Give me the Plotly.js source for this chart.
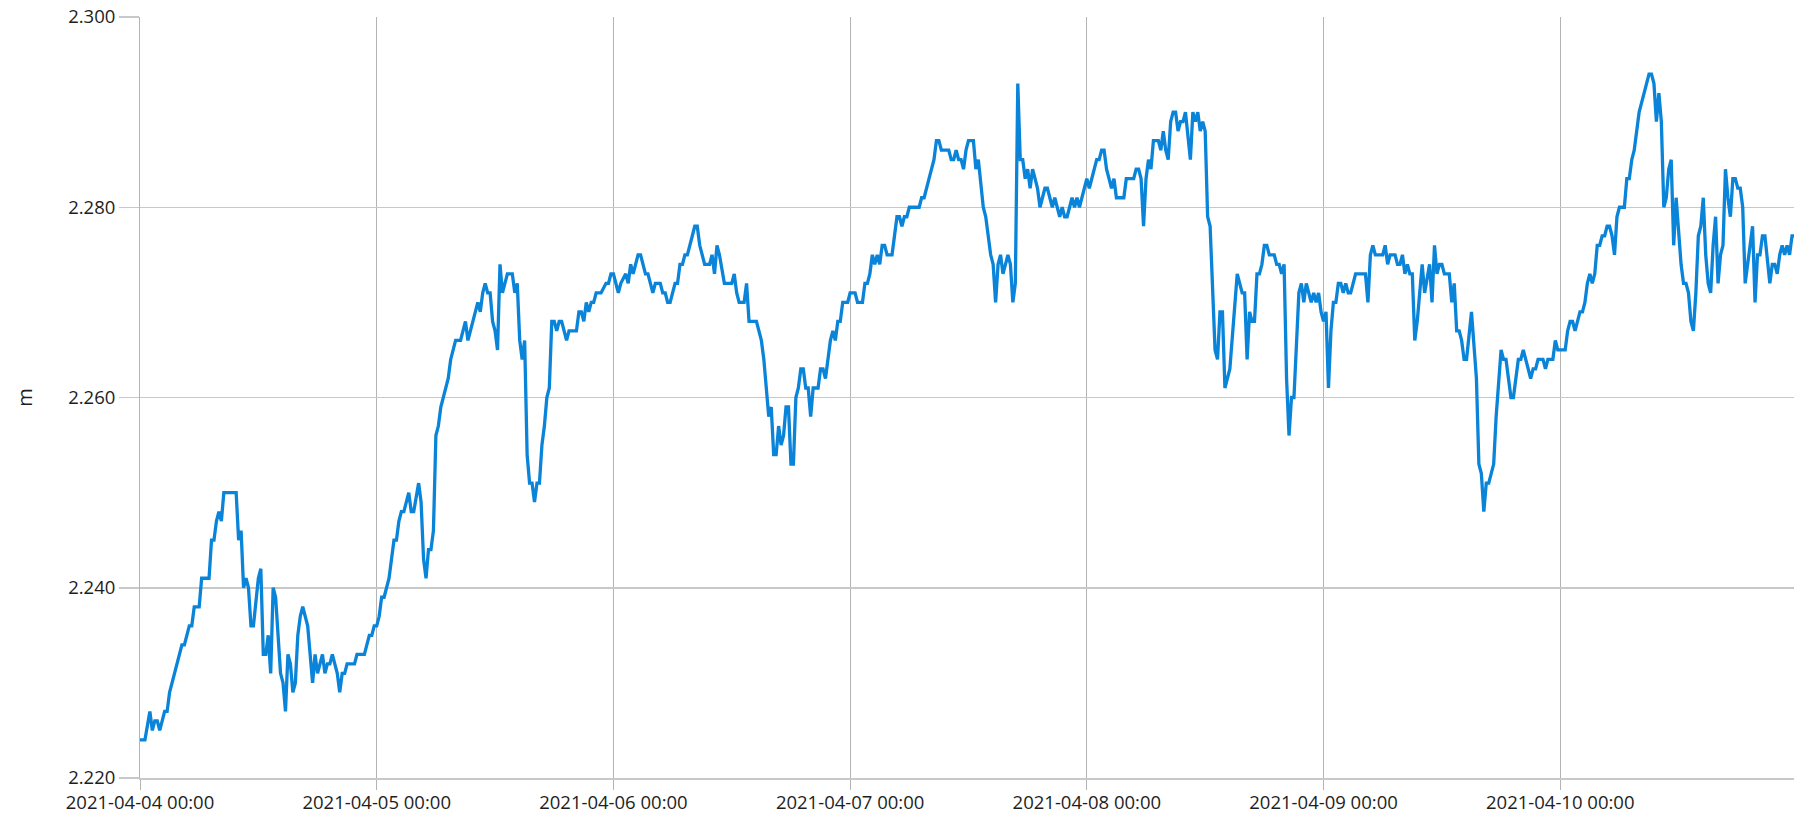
<!DOCTYPE html>
<html>
<head>
<meta charset="utf-8">
<script src="https://cdn.plot.ly/plotly-3.0.1.min.js"></script>
<style>html,body{margin:0;padding:0;background:#fff;}#chart{width:1794px;height:815px;}</style>
</head>
<body>
<div id="chart"></div>
<script>
// Start of the series and axis range
const startDate = [2021, 3, 4]; // 2021-04-04 00:00 (month is 0-based)
const rangeEndHours = 167.7;

// Hours since 2021-04-04 00:00 for each vertex of the line
const hoursDay1 = [0,0.5,1,1.25,1.5,1.75,2,2.5,2.75,3,3.25,4.25,4.5,5,5.25,5.5,6,6.25,7,7.25,7.5,7.75,8,8.25,8.5,9.75,10,10.25,10.5,10.75,11,11.25,11.5,12,12.25,12.5,12.75,13,13.25,13.5,13.75,14.25,14.5,14.75,15,15.25,15.5,15.75,16,16.25,16.5,16.75,17,17.5,17.75,18,18.5,18.75,19,19.25,19.5,19.75,20,20.25,20.5,20.75,21,21.75,22,22.75,23.25,23.5,23.75,24];
const levelDay1 = [2.224,2.224,2.227,2.225,2.226,2.226,2.225,2.227,2.227,2.229,2.230,2.234,2.234,2.236,2.236,2.238,2.238,2.241,2.241,2.245,2.245,2.247,2.248,2.247,2.250,2.250,2.245,2.246,2.240,2.241,2.240,2.236,2.236,2.241,2.242,2.233,2.233,2.235,2.231,2.240,2.239,2.231,2.230,2.227,2.233,2.232,2.229,2.230,2.235,2.237,2.238,2.237,2.236,2.230,2.233,2.231,2.233,2.231,2.232,2.232,2.233,2.232,2.231,2.229,2.231,2.231,2.232,2.232,2.233,2.233,2.235,2.235,2.236,2.236];

const hoursDay2 = [24.25,24.5,24.75,25.25,25.75,26,26.25,26.5,26.75,27.25,27.5,27.75,28.25,28.5,28.75,29,29.25,29.5,29.75,30,30.25,30.5,30.75,31.25,31.5,32,32.5,33,33.25,34.25,34.5,34.75,35,35.25,35.5,35.75,36,36.25,36.5,36.75,37.25,37.75,38,38.25,38.5,38.75,39,39.25,39.5,39.75,40,40.25,40.5,40.75,41,41.25,41.5,41.75,42,42.25,42.5,42.75,43.25,43.5,44.25,44.5,44.75,45,45.25,45.5,45.75,46,46.25,46.75,47.25,47.5,47.75,48];
const levelDay2 = [2.237,2.239,2.239,2.241,2.245,2.245,2.247,2.248,2.248,2.250,2.248,2.248,2.251,2.249,2.243,2.241,2.244,2.244,2.246,2.256,2.257,2.259,2.260,2.262,2.264,2.266,2.266,2.268,2.266,2.270,2.269,2.271,2.272,2.271,2.271,2.268,2.267,2.265,2.274,2.271,2.273,2.273,2.271,2.272,2.266,2.264,2.266,2.254,2.251,2.251,2.249,2.251,2.251,2.255,2.257,2.260,2.261,2.268,2.268,2.267,2.268,2.268,2.266,2.267,2.267,2.269,2.269,2.268,2.270,2.269,2.270,2.270,2.271,2.271,2.272,2.272,2.273,2.273];

const hoursDay3 = [48.5,48.75,49.25,49.5,49.75,50,50.5,50.75,51.25,51.5,52,52.25,52.75,53,53.25,53.5,53.75,54.25,54.5,54.75,55,55.25,55.5,56.25,56.5,56.75,57.25,57.75,58,58.25,58.5,58.75,59.25,60,60.25,60.5,60.75,61.25,61.5,61.75,62.5,62.75,63,63.25,63.75,64,64.25,64.5,64.75,65,65.25,65.5,65.75,66,66.25,66.5,66.75,67,67.25,67.5,67.75,68,68.25,68.75,69,69.25,69.5,69.75,70,70.25,70.5,70.75,71,71.25,71.75,72];
const levelDay3 = [2.271,2.272,2.273,2.272,2.274,2.273,2.275,2.275,2.273,2.273,2.271,2.272,2.272,2.271,2.271,2.270,2.270,2.272,2.272,2.274,2.274,2.275,2.275,2.278,2.278,2.276,2.274,2.274,2.275,2.273,2.276,2.275,2.272,2.272,2.273,2.271,2.270,2.270,2.272,2.268,2.268,2.267,2.266,2.264,2.258,2.259,2.254,2.254,2.257,2.255,2.256,2.259,2.259,2.253,2.253,2.260,2.261,2.263,2.263,2.261,2.261,2.258,2.261,2.261,2.263,2.263,2.262,2.264,2.266,2.267,2.266,2.268,2.268,2.270,2.270,2.271];

const hoursDay4 = [72.5,72.75,73.25,73.5,73.75,74,74.25,74.5,74.75,75,75.25,75.5,75.75,76.25,76.75,77,77.25,77.5,77.75,78,79,79.25,79.5,80,80.5,80.75,81,81.25,82,82.25,82.5,82.75,83,83.25,83.5,83.75,84,84.5,84.75,85,85.25,85.5,85.75,86.25,86.5,86.75,87,87.25,87.5,87.75,88,88.25,88.5,88.75,89,89.25,89.5,89.75,90,90.25,90.5,90.75,91,91.25,91.75,92,92.25,92.5,92.75,93,93.25,93.5,93.75,94,94.25,94.5,94.75,95,95.25,95.5,95.75,96];
const levelDay4 = [2.271,2.270,2.270,2.272,2.272,2.273,2.275,2.274,2.275,2.274,2.276,2.276,2.275,2.275,2.279,2.279,2.278,2.279,2.279,2.280,2.280,2.281,2.281,2.283,2.285,2.287,2.287,2.286,2.286,2.285,2.285,2.286,2.285,2.285,2.284,2.286,2.287,2.287,2.284,2.285,2.282,2.280,2.279,2.275,2.274,2.270,2.274,2.275,2.273,2.274,2.275,2.274,2.270,2.272,2.293,2.285,2.285,2.283,2.284,2.282,2.284,2.283,2.282,2.280,2.282,2.282,2.281,2.280,2.281,2.280,2.279,2.280,2.279,2.279,2.280,2.281,2.280,2.281,2.280,2.281,2.282,2.283];

const hoursDay5 = [96.25,96.5,97,97.25,97.5,97.75,98,98.25,98.5,98.75,99,99.75,100,100.75,101,101.25,101.5,101.75,102,102.25,102.5,102.75,103.25,103.5,103.75,104,104.25,104.5,104.75,105,105.25,105.5,105.75,106,106.25,106.5,106.75,107,107.25,107.5,107.75,108,108.25,108.5,109,109.25,109.5,109.75,110,110.5,111.25,111.5,111.75,112,112.25,112.5,112.75,113,113.25,113.5,113.75,114,114.25,114.5,115,115.25,115.5,115.75,116,116.25,116.5,116.75,117,117.5,117.75,118,118.25,118.5,118.75,119,119.25,119.5,119.75,120];
const levelDay5 = [2.282,2.283,2.285,2.285,2.286,2.286,2.284,2.283,2.282,2.283,2.281,2.281,2.283,2.283,2.284,2.284,2.283,2.278,2.283,2.285,2.284,2.287,2.287,2.286,2.288,2.286,2.285,2.289,2.290,2.290,2.288,2.289,2.289,2.290,2.287,2.285,2.290,2.289,2.290,2.288,2.289,2.288,2.279,2.278,2.265,2.264,2.269,2.269,2.261,2.263,2.273,2.272,2.271,2.271,2.264,2.269,2.268,2.268,2.273,2.273,2.274,2.276,2.276,2.275,2.275,2.274,2.274,2.273,2.274,2.262,2.256,2.260,2.260,2.271,2.272,2.270,2.272,2.271,2.270,2.271,2.270,2.271,2.269,2.268];

const hoursDay6 = [120.25,120.5,120.75,121,121.25,121.5,121.75,122,122.25,122.5,122.75,123.25,124.25,124.5,124.75,125,125.25,126,126.25,126.5,126.75,127.25,127.5,127.75,128,128.25,128.5,128.75,129,129.25,129.5,130,130.25,130.75,131,131.25,131.5,131.75,132,132.25,132.75,133,133.25,133.5,133.75,134,134.25,134.5,135,135.5,135.75,136,136.25,136.5,136.75,137,137.25,137.5,137.75,138,138.25,138.5,139,139.25,139.75,140,140.25,140.5,141,141.25,141.5,141.75,142.25,142.5,142.75,143.25,143.5,143.75,144];
const levelDay6 = [2.269,2.261,2.267,2.270,2.270,2.272,2.272,2.271,2.272,2.271,2.271,2.273,2.273,2.270,2.275,2.276,2.275,2.275,2.276,2.274,2.275,2.275,2.274,2.274,2.275,2.273,2.274,2.273,2.273,2.266,2.268,2.274,2.271,2.274,2.270,2.276,2.273,2.274,2.274,2.273,2.273,2.270,2.272,2.267,2.267,2.266,2.264,2.264,2.269,2.262,2.253,2.252,2.248,2.251,2.251,2.252,2.253,2.258,2.262,2.265,2.264,2.264,2.260,2.260,2.264,2.264,2.265,2.264,2.262,2.263,2.263,2.264,2.264,2.263,2.264,2.264,2.266,2.265,2.265];

const hoursDay7 = [144.5,144.75,145,145.25,145.5,145.75,146,146.25,146.5,146.75,147,147.25,147.5,147.75,148,148.25,148.5,148.75,149,149.25,149.5,149.75,150,150.5,150.75,151,151.25,151.5,152,152.25,153,153.25,153.5,153.75,154,154.25,154.5,154.75,155,155.25,155.5,155.75,156,156.25,156.5,156.75,157,157.25,157.5,157.75,158,158.25,158.5,158.75,159,159.25,159.5,159.75,160,160.25,160.5,160.75,161,161.25,161.5,161.75,162,162.25,162.5,162.75,163,163.25,163.5,163.75,164,164.25,164.5,164.75,165,165.25,165.5,165.75,166,166.25,166.5,166.75,167,167.25,167.5,167.75];
const levelDay7 = [2.265,2.267,2.268,2.268,2.267,2.268,2.269,2.269,2.270,2.272,2.273,2.272,2.273,2.276,2.276,2.277,2.277,2.278,2.278,2.277,2.275,2.279,2.280,2.280,2.283,2.283,2.285,2.286,2.290,2.291,2.294,2.294,2.293,2.289,2.292,2.289,2.280,2.281,2.284,2.285,2.276,2.281,2.278,2.274,2.272,2.272,2.271,2.268,2.267,2.271,2.277,2.278,2.281,2.275,2.272,2.271,2.276,2.279,2.272,2.275,2.276,2.284,2.281,2.279,2.283,2.283,2.282,2.282,2.280,2.272,2.274,2.276,2.278,2.270,2.275,2.275,2.277,2.277,2.274,2.272,2.274,2.274,2.273,2.275,2.276,2.275,2.276,2.275,2.277,2.277];

// Axis ticks
const yTickValues = [2.220, 2.240, 2.260, 2.280, 2.300];
const yAxisTitle = 'm';

const hours = [].concat(hoursDay1, hoursDay2, hoursDay3, hoursDay4, hoursDay5, hoursDay6, hoursDay7);
const levels = [].concat(levelDay1, levelDay2, levelDay3, levelDay4, levelDay5, levelDay6, levelDay7);

const t0 = Date.UTC(startDate[0], startDate[1], startDate[2]);
function pad(n){ return (n < 10 ? '0' : '') + n; }
function fmt(h){
  const d = new Date(t0 + Math.round(h * 3600000));
  return d.getUTCFullYear() + '-' + pad(d.getUTCMonth() + 1) + '-' + pad(d.getUTCDate()) + ' ' +
         pad(d.getUTCHours()) + ':' + pad(d.getUTCMinutes()) + ':' + pad(d.getUTCSeconds());
}
const times = hours.map(fmt);

const font = {family: '"Open Sans", "Liberation Sans", sans-serif', size: 18.5, color: '#1e1e1e'};

Plotly.newPlot('chart', [{
  type: 'scatter',
  mode: 'lines',
  x: times,
  y: levels,
  line: {color: '#0a84d8', width: 3.3},
  hoverinfo: 'x+y'
}], {
  width: 1794,
  height: 815,
  margin: {l: 140, r: 0, t: 17, b: 37},
  paper_bgcolor: '#ffffff',
  plot_bgcolor: '#ffffff',
  showlegend: false,
  font: font,
  xaxis: {
    type: 'date',
    range: [fmt(0), fmt(rangeEndHours)],
    tick0: fmt(0),
    dtick: 86400000,
    tickformat: '%Y-%m-%d %H:%M',
    showgrid: true,
    gridcolor: '#b4b4b4',
    gridwidth: 1,
    ticks: 'outside',
    ticklen: 10,
    tickcolor: '#b4b4b4',
    tickwidth: 1,
    ticklabelstandoff: -3,
    showline: true,
    linecolor: '#c8c8c8',
    linewidth: 1.5,
    zeroline: false,
    automargin: false,
    tickfont: font
  },
  yaxis: {
    range: [2.22, 2.30],
    tickvals: yTickValues,
    tickformat: '.3f',
    showgrid: true,
    gridcolor: '#c8c8c8',
    gridwidth: 1.5,
    ticks: 'outside',
    ticklen: 20,
    tickcolor: '#c8c8c8',
    tickwidth: 1.5,
    showline: true,
    linecolor: '#b4b4b4',
    linewidth: 1,
    zeroline: false,
    automargin: false,
    tickfont: font,
    title: {text: yAxisTitle, font: {family: font.family, size: 20, color: '#1e1e1e'}, standoff: 30}
  }
}, {displayModeBar: false, staticPlot: true});
</script>
</body>
</html>
